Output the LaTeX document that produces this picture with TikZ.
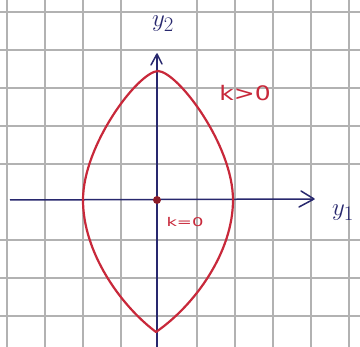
\documentclass[tikz,border=0pt]{standalone}
\usepackage{fontspec}
\setmainfont{DejaVu Sans}
\begin{document}
\begin{tikzpicture}[x=1pt,y=-1pt,
  gridline/.style={draw=black!30,line width=1.1pt},
  axisline/.style={draw=axisblue,line width=1.5pt},
  chevron/.style={draw=axisblue,line width=1.5pt,line cap=round,line join=round},
  curve/.style={draw=curvered,line width=2.2pt,line join=round},
  redlabel/.style={text=curvered,inner sep=0pt},
  axislabel/.style={text=axisblue,inner sep=0pt}]
\definecolor{axisblue}{RGB}{40,40,110}
\definecolor{curvered}{RGB}{200,40,58}
\fill[white] (0,0) rectangle (360,347);
\useasboundingbox (0,0) rectangle (360,347);
% grid
\foreach \gx in {7,45,83,121,197,235,273,311,349}
  \draw[gridline] (\gx,0) -- (\gx,347);
\foreach \gy in {12,50,88,126,164,240,278,316}
  \draw[gridline] (0,\gy) -- (360,\gy);
% axes
\coordinate (xs) at (10,200);
\coordinate (xe) at (314,199);
\coordinate (ys) at (157,347);
\coordinate (ye) at (157,54);
\draw[axisline] (xs) -- (xe);
\draw[axisline] (ys) -- (ye);
\draw[chevron] (301,191) -- (xe) -- (299,207);
\draw[chevron] (151,65) -- (ye) -- (162,64);
% curve k>0
\coordinate (top) at (158,71);
\coordinate (left) at (83,200);
\coordinate (bot) at (156,332);
\coordinate (right) at (233,200);
\draw[curve] (top) .. controls (138,72) and (83,145) .. (left)
  .. controls (83,252) and (120,305) .. (bot)
  .. controls (195,305) and (233,252) .. (right)
  .. controls (233,145) and (178,72) .. (top) -- cycle;
% origin point
\node[circle,fill=curvered!70!black,inner sep=0pt,minimum size=8pt] (o) at (157,200) {};
% labels
\node[axislabel] (y2) at (163,24) {\fontsize{30}{32}\selectfont $y_2$};
\node[axislabel] (y1) at (343,213) {\fontsize{30}{32}\selectfont $y_1$};
\node[redlabel] (kpos) at (245,93) {\fontsize{20}{22}\selectfont\scalebox{1.25}[1]{k>0}};
\node[redlabel] (kzero) at (185,222) {\fontsize{12}{14}\selectfont\scalebox{1.5}[1]{k=0}};
\end{tikzpicture}
\end{document}
